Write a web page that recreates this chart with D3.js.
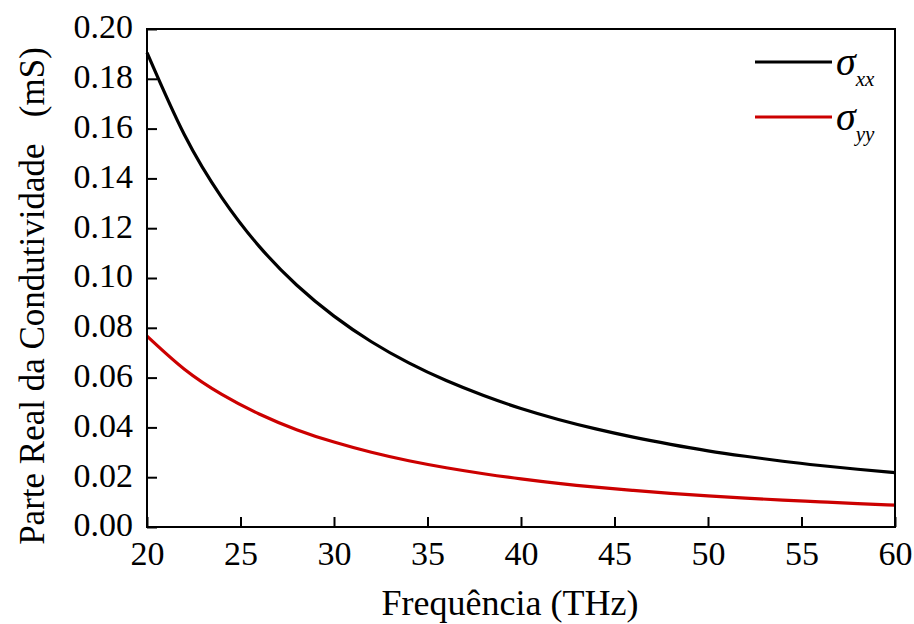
<!DOCTYPE html>
<html><head><meta charset="utf-8">
<script src="https://cdn.jsdelivr.net/npm/d3@7/dist/d3.min.js"></script>
<style>body{margin:0;background:#fff}</style>
</head><body>
<svg id="c" width="914" height="624"></svg>
<script>
const freq = [20,22,24,26,28,30,32,34,36,38,40,42,44,46,48,50,52,54,56,58,60];
const sigmaXX = [0.1905,0.1575,0.1323,0.1127,0.0972,0.0847,0.0744,0.0659,0.0588,0.0528,0.0476,0.0432,0.0394,0.0361,0.0332,0.0306,0.0284,0.0264,0.0247,0.0232,0.0218];
const sigmaYY = [0.0767,0.0634,0.0533,0.0454,0.0391,0.0341,0.0300,0.0266,0.0238,0.0214,0.0193,0.0175,0.0160,0.0147,0.0135,0.0125,0.0116,0.0108,0.0101,0.0094,0.0088];
const xTicks = [20,25,30,35,40,45,50,55,60];
const yTicks = [0,0.02,0.04,0.06,0.08,0.10,0.12,0.14,0.16,0.18,0.20];
const seriesNames = ["xx","yy"];
const colors = ["#000000","#cc0000"];
const FONT = '"Liberation Serif"';

const svg = d3.select("#c");
const L=147, R=895, T=29, B=527;
const x = d3.scaleLinear().domain([20,60]).range([L,R]);
const y = d3.scaleLinear().domain([0,0.20]).range([B,T]);

const xa = svg.append("g").attr("transform",`translate(0,${B})`)
  .call(d3.axisBottom(x).tickValues(xTicks).tickSizeInner(-10).tickSizeOuter(0).tickPadding(14).tickFormat(d3.format("d")));
const ya = svg.append("g").attr("transform",`translate(${L},0)`)
  .call(d3.axisLeft(y).tickValues(yTicks).tickSizeInner(-10).tickSizeOuter(0).tickPadding(14).tickFormat(d3.format(".2f")));
[xa,ya].forEach(a=>{
  a.attr("font-family",null).attr("font-size",null);
  a.select(".domain").remove();
  a.selectAll(".tick line").attr("stroke","#000").attr("stroke-width",2);
  a.selectAll(".tick text").style("font-family",FONT).style("font-size","34px").attr("fill","#000");
});
xa.selectAll(".tick text").attr("dy","0.71em");
ya.selectAll(".tick text").attr("dy","0.26em");

const line = d3.line().x((d,i)=>x(freq[i])).y(d=>y(d)).curve(d3.curveNatural);
[sigmaXX,sigmaYY].forEach((s,k)=>{
  svg.append("path").datum(s).attr("d",line).attr("fill","none")
    .attr("stroke",colors[k]).attr("stroke-width",3.2);
});

svg.append("rect").attr("x",L).attr("y",T).attr("width",R-L).attr("height",B-T)
  .attr("fill","none").attr("stroke","#000").attr("stroke-width",2);

// legend
seriesNames.forEach((n,k)=>{
  const ly = 62 + k*55;
  svg.append("line").attr("x1",755).attr("x2",832).attr("y1",ly).attr("y2",ly)
    .attr("stroke",colors[k]).attr("stroke-width",3.2);
  const t = svg.append("text").attr("x",836).attr("y",ly+13)
    .style("font-family",FONT).style("font-style","italic").style("font-size","40px").attr("fill","#000");
  t.append("tspan").text("σ");
  t.append("tspan").style("font-size","21px").attr("dy",11).text(n);
});

svg.append("text").attr("x",510).attr("y",615).attr("text-anchor","middle")
  .style("font-family",FONT).style("font-size","36px").text("Frequência (THz)");
svg.append("text").attr("transform",`translate(44,296) rotate(-90)`).attr("text-anchor","middle")
  .style("font-family",FONT).style("font-size","35px").style("white-space","pre")
  .text("Parte Real da Condutividade   (mS)");
</script>
</body></html>
